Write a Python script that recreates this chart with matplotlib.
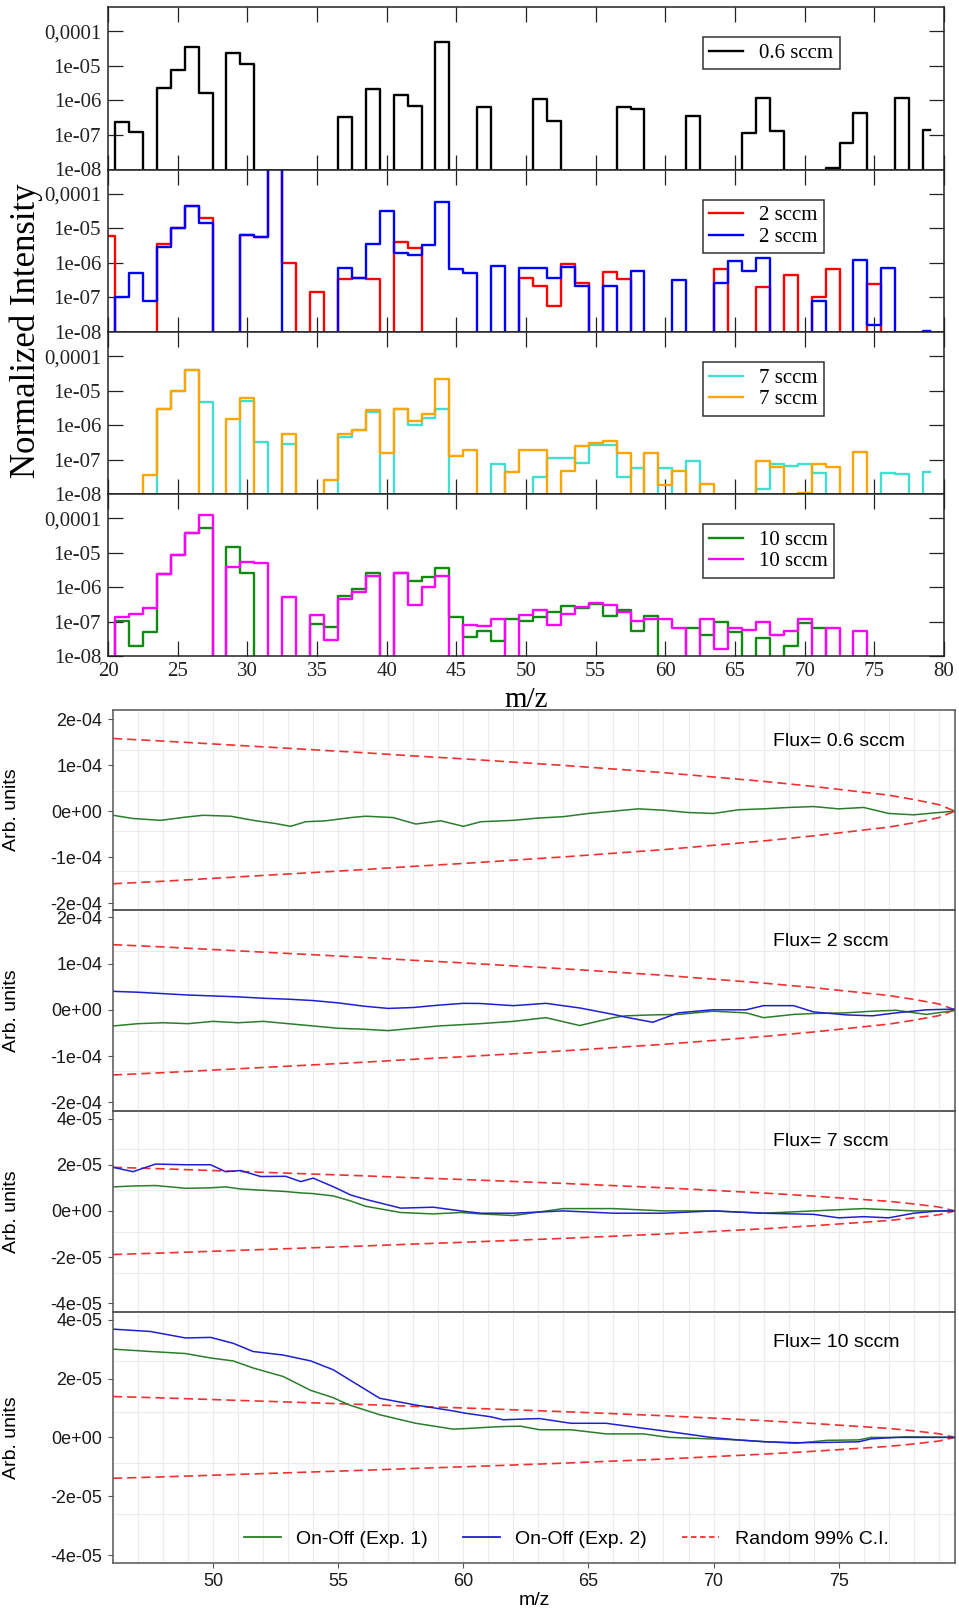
# Mass spectra (log scale) and on-off differences for several fluxes

import numpy as np
import matplotlib.pyplot as plt
from matplotlib.lines import Line2D
from matplotlib.ticker import NullLocator

W, H = 959, 1611

def rect(left, top, right, bottom):
    # pixel box -> figure fraction
    return [left / W, 1 - bottom / H, (right - left) / W, (bottom - top) / H]

# ---------------- spectra, m/z 20..79 (0 = not detected) ----------------
mz = np.arange(20, 80)

sp_06 = [0, 2.3e-7, 1.2e-7, 0, 2.3e-6, 7.4e-6, 3.5e-5, 1.6e-6, 0, 2.4e-5,
         1.15e-5, 0, 0, 0, 0, 0, 0, 3.4e-7, 0, 2.1e-6,
         0, 1.4e-6, 7e-7, 0, 4.9e-5, 0, 0, 6.3e-7, 0, 0,
         0, 1.1e-6, 2.5e-7, 0, 0, 0, 0, 6.3e-7, 5.8e-7, 0,
         0, 0, 3.5e-7, 0, 0, 0, 1.1e-7, 1.2e-6, 1.3e-7, 0,
         0, 0, 1.1e-8, 5.7e-8, 4.4e-7, 0, 0, 1.2e-6, 0, 1.4e-7]

sp_2a = [5.8e-6, 0, 0, 0, 3.6e-6, 1.05e-5, 4.4e-5, 2.0e-5, 0, 0,
         6.2e-6, 5.6e-6, 1e-3, 1.0e-6, 0, 1.4e-7, 0, 3.5e-7, 3.7e-7, 3.3e-7,
         0, 4e-6, 2.6e-6, 0, 0, 0, 0, 0, 0, 0,
         3.7e-7, 2.2e-7, 5.6e-8, 9e-7, 2.6e-7, 0, 5.4e-7, 3.3e-7, 0, 0,
         0, 0, 0, 0, 6.8e-7, 0, 0, 1.95e-7, 0, 4.4e-7,
         0, 1.0e-7, 6.8e-7, 0, 0, 2.5e-7, 0, 0, 0, 0]

sp_2b = [0, 1.0e-7, 5.2e-7, 8e-8, 2.8e-6, 1.05e-5, 4.4e-5, 1.45e-5, 0, 0,
         6.2e-6, 5.6e-6, 1e-3, 0, 0, 0, 0, 7.3e-7, 3.7e-7, 3.6e-6,
         3.1e-5, 1.9e-6, 1.7e-6, 3.2e-6, 5.7e-5, 6.5e-7, 5e-7, 0, 8.3e-7, 0,
         7.3e-7, 7.3e-7, 3.7e-7, 7.6e-7, 2.1e-7, 0, 2.1e-7, 0, 5.7e-7, 0,
         0, 3.1e-7, 0, 0, 2.6e-7, 1.15e-6, 6e-7, 1.35e-6, 0, 0,
         0, 8e-8, 0, 0, 1.2e-6, 1.6e-8, 7.3e-7, 0, 0, 1.05e-8]

sp_7a = [0, 0, 0, 0, 2.9e-6, 1.0e-5, 4.0e-5, 4.7e-6, 0, 0,
         5e-6, 3.2e-7, 0, 2.9e-7, 0, 0, 0, 4.4e-7, 7.4e-7, 2.4e-6,
         0, 2.9e-6, 1.0e-6, 1.65e-6, 3e-6, 0, 0, 0, 7.2e-8, 0,
         0, 3.2e-8, 1.1e-7, 1.1e-7, 7.7e-8, 2.6e-7, 2.6e-7, 3.2e-8, 5.5e-8, 0,
         5.7e-8, 0, 9e-8, 0, 0, 0, 0, 1.4e-8, 7.4e-8, 6.5e-8,
         7.2e-8, 4e-8, 0, 0, 0, 0, 4e-8, 3.8e-8, 0, 4.4e-8]

sp_7b = [0, 0, 0, 3.5e-8, 2.9e-6, 1.0e-5, 4.0e-5, 0, 0, 1.45e-6,
         6.2e-6, 0, 0, 5.4e-7, 0, 0, 2.5e-8, 5.4e-7, 7.4e-7, 2.7e-6,
         1.56e-7, 2.9e-6, 1.3e-6, 2.1e-6, 2.2e-5, 1.25e-7, 1.95e-7, 0, 0, 4.4e-8,
         1.95e-7, 1.95e-7, 0, 4.7e-8, 2.4e-7, 3.1e-7, 3.5e-7, 1.5e-7, 0, 1.5e-7,
         1.8e-8, 4.7e-8, 0, 2e-8, 0, 0, 0, 9.2e-8, 5.9e-8, 0,
         1.1e-8, 7.4e-8, 5.9e-8, 0, 1.6e-7, 0, 0, 0, 0, 0]

sp_10a = [0, 1.05e-7, 1.95e-8, 5e-8, 2.4e-6, 8.5e-6, 3.8e-5, 5.1e-5, 0, 1.44e-5,
          2.5e-6, 0, 0, 0, 0, 8.2e-8, 7e-8, 5.5e-7, 8.5e-7, 2.6e-6,
          0, 2.5e-6, 1.5e-6, 2.0e-6, 3.6e-6, 1.37e-7, 3.6e-8, 5.2e-8, 2.7e-8, 1.2e-7,
          1.05e-7, 1.37e-7, 1.9e-7, 2.8e-7, 2.4e-7, 3.2e-7, 1.45e-7, 2.2e-7, 5.2e-8, 1.45e-7,
          0, 0, 6.4e-8, 4e-8, 9.8e-8, 5e-8, 0, 3.4e-8, 0, 2e-8,
          8.8e-8, 6.4e-8, 0, 0, 0, 0, 0, 0, 0, 0]

sp_10b = [0, 1.37e-7, 1.7e-7, 2.5e-7, 2.4e-6, 8.5e-6, 3.8e-5, 1.25e-4, 0, 3.7e-6,
          5.5e-6, 4.9e-6, 0, 5e-7, 0, 1.5e-7, 3e-8, 4.5e-7, 7.3e-7, 2.1e-6,
          0, 2.5e-6, 3e-7, 1.0e-6, 2.1e-6, 0, 7.8e-8, 7.3e-8, 1.15e-7, 0,
          1.5e-7, 2.1e-7, 7.8e-8, 1.7e-7, 2.7e-7, 3.4e-7, 3e-7, 1.9e-7, 1.05e-7, 1.2e-7,
          1.2e-7, 6.5e-8, 0, 1.2e-7, 1.6e-8, 6.5e-8, 5.6e-8, 9.4e-8, 4.2e-8, 5.3e-8,
          1.2e-7, 0, 6.4e-8, 0, 5.3e-8, 0, 0, 0, 0, 0]

spectra = [
    [(sp_06, 'black', '0.6 sccm')],
    [(sp_2a, '#ff0000', '2 sccm'), (sp_2b, '#0000ff', '2 sccm')],
    [(sp_7a, '#40e0d0', '7 sccm'), (sp_7b, '#ffa500', '7 sccm')],
    [(sp_10a, '#118a11', '10 sccm'), (sp_10b, '#ff00ff', '10 sccm')],
]

ytick_vals = [1e-8, 1e-7, 1e-6, 1e-5, 1e-4]
ytick_text = ['1e-08', '1e-07', '1e-06', '1e-05', '0,0001']

# ---------------- on-off differences (units of 1e-5) ----------------
flux_labels = ['Flux= 0.6 sccm', 'Flux= 2 sccm', 'Flux= 7 sccm', 'Flux= 10 sccm']

p1_x = [46.0, 46.8, 47.9, 48.9, 49.6, 50.7, 51.6, 52.5, 53.1, 53.7, 54.5, 55.5, 56.1, 57.2,
        58.1, 59.1, 60.0, 60.7, 62.0, 63.0, 64.0, 65.0, 66.0, 67.0, 68.0, 69.0, 70.0,
        71.0, 72.0, 73.0, 74.0, 75.0, 76.0, 77.0, 78.0, 79.0, 79.65]
p1_g = [-0.9, -1.6, -2.0, -1.3, -0.9, -1.1, -2.0, -2.7, -3.3, -2.3, -2.1, -1.4, -1.1, -1.4,
        -2.8, -2.1, -3.3, -2.3, -2.0, -1.5, -1.2, -0.5, 0.0, 0.5, 0.2, -0.3, -0.5,
        0.3, 0.5, 0.8, 1.0, 0.5, 0.8, -0.5, -0.8, -0.3, 0.0]

p2_x = [46.0, 47.0, 48.0, 49.0, 50.0, 51.0, 52.0, 53.0, 54.0, 55.0, 56.0, 57.0, 58.0, 59.0,
        60.0, 60.66, 62.0, 63.3, 64.65, 66.0, 66.5, 67.57, 68.6, 69.96, 71.3, 72.0, 73.2,
        74.0, 75.3, 76.35, 77.3, 78.5, 79.65]
p2_g = [-3.5, -3.0, -2.8, -3.0, -2.5, -2.8, -2.5, -3.0, -3.5, -4.0, -4.2, -4.5, -4.0, -3.5,
        -3.2, -3.0, -2.5, -1.7, -3.4, -1.7, -1.3, -1.1, -1.0, -0.3, -0.66, -1.7, -1.0,
        -0.8, -0.65, -0.3, -0.1, -1.0, -0.15]
p2_b = [4.0, 3.8, 3.5, 3.2, 3.0, 2.8, 2.5, 2.3, 2.0, 1.5, 0.8, 0.3, 0.5, 1.0,
        1.4, 1.37, 0.9, 1.4, 0.4, -1.0, -1.6, -2.7, -0.65, 0.0, 0.0, 0.9, 0.9,
        -0.46, -1.1, -1.3, -0.66, 0.0, 0.15]

p3_x = [46.0, 46.8, 47.7, 48.9, 49.9, 50.5, 51.1, 51.9, 52.9, 53.5, 54.0, 54.8, 55.5, 56.1,
        57.5, 58.8, 59.9, 60.7, 62.0, 64.0, 66.0, 68.0, 70.0, 72.0, 74.0, 75.0, 76.0,
        77.0, 78.0, 79.0, 79.65]
p3_g = [1.04, 1.08, 1.1, 0.98, 1.0, 1.04, 0.95, 0.9, 0.84, 0.78, 0.75, 0.65, 0.43, 0.2,
        -0.07, -0.13, -0.07, -0.13, -0.2, 0.1, 0.1, 0.0, 0.0, -0.1, 0.0, 0.05, 0.1,
        0.05, 0.0, 0.0, 0.0]
p3_b = [1.89, 1.7, 2.03, 2.0, 2.0, 1.7, 1.75, 1.49, 1.5, 1.27, 1.42, 1.05, 0.69, 0.5,
        0.12, 0.16, 0.0, -0.1, -0.1, 0.0, -0.1, -0.1, 0.0, -0.1, -0.15, -0.3, -0.25,
        -0.3, -0.1, 0.0, 0.0]

p4_x = [46.0, 47.5, 48.9, 49.9, 50.8, 51.6, 52.8, 53.9, 54.8, 55.45, 56.66, 58.1, 59.6,
        60.1, 61.1, 61.6, 62.3, 63.05, 64.3, 65.7, 67.2, 68.2, 69.9, 70.9, 72.1, 73.3,
        74.55, 75.8, 76.3, 77.3, 77.75, 79.65]
p4_g = [3.0, 2.92, 2.85, 2.7, 2.6, 2.36, 2.07, 1.6, 1.35, 1.1, 0.77, 0.48, 0.28,
        0.3, 0.35, 0.37, 0.38, 0.26, 0.26, 0.12, 0.12, 0.0, -0.05, -0.085, -0.15, -0.2,
        -0.1, -0.085, 0.0, 0.0, 0.02, 0.0]
p4_b = [3.68, 3.6, 3.38, 3.4, 3.2, 2.92, 2.8, 2.6, 2.3, 1.96, 1.33, 1.1, 0.9,
        0.82, 0.7, 0.6, 0.62, 0.64, 0.48, 0.48, 0.31, 0.2, 0.0, -0.08, -0.15, -0.18,
        -0.17, -0.15, -0.05, 0.0, 0.0, 0.0]

diff_x = [p1_x, p2_x, p3_x, p4_x]
diff_green = [p1_g, p2_g, p3_g, p4_g]
diff_blue = [None, p2_b, p3_b, p4_b]

# 99% band: half-width at left edge and relative width along m/z
ci_x = [46, 48, 50, 52, 54, 56, 58, 60, 62, 64, 66, 68, 70, 72, 74, 76, 77, 78, 79, 79.65]
ci_rel = [1.0, 0.965, 0.925, 0.885, 0.845, 0.805, 0.76, 0.72, 0.675, 0.63, 0.58, 0.53,
          0.47, 0.41, 0.34, 0.26, 0.22, 0.16, 0.09, 0.0]
ci_left = [15.8, 14.1, 1.89, 1.39]

ylims = [(-21.5, 22.0), (-21.9, 21.6), (-4.36, 4.33), (-4.27, 4.28)]
yticks = [[-20, -10, 0, 10, 20], [-20, -10, 0, 10, 20],
          [-4, -2, 0, 2, 4], [-4, -2, 0, 2, 4]]
ytick_lbl = [['-2e-04', '-1e-04', '0e+00', '1e-04', '2e-04']] * 2 + \
            [['-4e-05', '-2e-05', '0e+00', '2e-05', '4e-05']] * 2
hgrid = [[13.3, 4.4, -4.35, -13.0], [12.7, 4.0, -4.5, -13.2],
         [2.7, 0.9, -0.9, -2.7], [2.6, 0.87, -0.87, -2.6]]

fig = plt.figure(figsize=(W / 100, H / 100), dpi=100)

# ======================= spectra block =======================
serif = ['Liberation Serif', 'DejaVu Serif']
tops = [7, 169.5, 332, 494, 656]
for i, series in enumerate(spectra):
    ax = fig.add_axes(rect(108, tops[i], 944, tops[i + 1]))
    for vals, col, lab in series:
        v = np.array(vals, dtype=float)
        v[v <= 0] = 1e-12
        ax.step(mz, v, where='mid', color=col, lw=1.7, label=lab)
    ax.set_yscale('log')
    ax.set_ylim(1e-8, 5e-4)
    ax.set_xlim(20, 80)
    ax.set_yticks(ytick_vals)
    ax.set_yticklabels(ytick_text, family=serif, fontsize=15)
    ax.yaxis.set_minor_locator(NullLocator())
    ax.set_xticks(range(20, 81, 5))
    ax.tick_params(direction='in', length=11, width=0.9, top=True, right=True,
                   pad=5, colors='#222222')
    if i < 3:
        ax.set_xticklabels([])
    else:
        ax.set_xticklabels([str(t) for t in range(20, 81, 5)], family=serif, fontsize=15)
        ax.tick_params(axis='x', pad=4)
    for s in ax.spines.values():
        s.set_linewidth(1.1)
        s.set_color('#222222')
    handles = [Line2D([], [], color=c, lw=1.7) for _, c, _ in series]
    leg = ax.legend(handles, [l for _, _, l in series], loc='upper left',
                    bbox_to_anchor=(0.712, 0.815), borderaxespad=0,
                    prop={'family': serif, 'size': 15}, frameon=True, fancybox=False,
                    edgecolor='black', handlelength=1.6, handletextpad=0.8,
                    borderpad=0.3, labelspacing=0.1)
    leg.get_frame().set_linewidth(1.1)

fig.text(26 / W, 1 - 331 / H, 'Normalized Intensity', rotation=90, ha='center',
         va='center', family=serif, fontsize=25)
fig.text(526 / W, 1 - 700 / H, 'm/z', ha='center', va='center', family=serif,
         fontsize=21, zorder=10)

# ======================= difference block =======================
sans = ['Liberation Sans', 'DejaVu Sans']
btops = [710, 910, 1111, 1311.5, 1563]
for i in range(4):
    ax = fig.add_axes(rect(113, btops[i], 955, btops[i + 1]))
    ax.patch.set_alpha(0)
    ax.set_xlim(46.0, 79.65)
    ax.set_ylim(*ylims[i])
    for gx in range(47, 80):
        ax.axvline(gx, color='#ebebeb', lw=0.8, zorder=0)
    for gy in hgrid[i]:
        ax.axhline(gy, color='#ebebeb', lw=0.8, zorder=0)
    ci = np.array(ci_rel) * ci_left[i]
    ax.plot(ci_x, ci, color='#f03030', lw=1.2, ls=(0, (5.5, 3)))
    ax.plot(ci_x, -ci, color='#f03030', lw=1.2, ls=(0, (5.5, 3)))
    ax.plot(diff_x[i], diff_green[i], color='#2b7d2b', lw=1.1)
    if diff_blue[i] is not None:
        ax.plot(diff_x[i], diff_blue[i], color='#1f1fd0', lw=1.1)
    ax.set_yticks(yticks[i])
    ax.set_yticklabels(ytick_lbl[i], family=sans, fontsize=13)
    ax.set_xticks(range(50, 80, 5))
    ax.tick_params(direction='out', length=3.5, width=0.8, colors='#555555',
                   labelcolor='#1a1a1a', pad=4)
    if i < 3:
        ax.set_xticklabels([])
        ax.tick_params(axis='x', length=0)
    else:
        ax.set_xticklabels([str(t) for t in range(50, 80, 5)], family=sans, fontsize=13)
        ax.set_xlabel('m/z', family=sans, fontsize=14, labelpad=1)
    for s in ax.spines.values():
        s.set_linewidth(1.1)
        s.set_color('#555555')
    ax.set_ylabel('Arb. units', family=sans, fontsize=14, labelpad=8)
    ax.yaxis.set_label_coords(-(113 - 20) / 842, 0.5)
    ax.text((773 - 113) / 842, 1 - 31 / (btops[i + 1] - btops[i]), flux_labels[i],
            transform=ax.transAxes, ha='left', va='center', family=sans, fontsize=14)
    if i == 3:
        hs = [Line2D([], [], color='#2b7d2b', lw=1.3),
              Line2D([], [], color='#1f1fd0', lw=1.3),
              Line2D([], [], color='#f03030', lw=1.3, ls=(0, (3, 2)))]
        ax.legend(hs, ['On-Off (Exp. 1)', 'On-Off (Exp. 2)', 'Random 99% C.I.'],
                  loc='center', bbox_to_anchor=(0.538, 0.095), ncol=3, frameon=False,
                  prop={'family': sans, 'size': 14}, handlelength=1.9,
                  handletextpad=0.8, columnspacing=1.8)

fig.savefig('out.png', dpi=100)
